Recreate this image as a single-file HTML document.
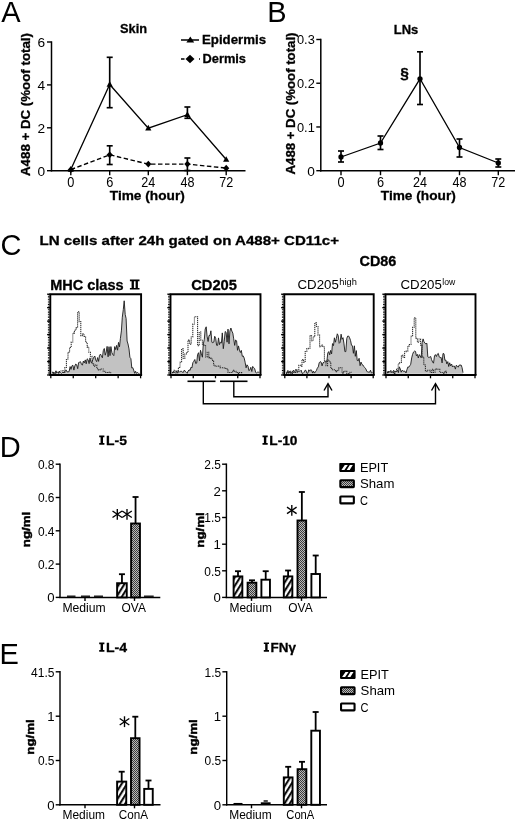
<!DOCTYPE html>
<html><head><meta charset="utf-8"><title>Figure</title>
<style>
html,body{margin:0;padding:0;background:#fff;}
body{width:520px;height:821px;overflow:hidden;font-family:"Liberation Sans",sans-serif;}
svg{display:block;will-change:transform;}
svg text{font-family:"Liberation Sans",sans-serif;fill:#000;}
</style></head><body>
<svg width="520" height="821" viewBox="0 0 520 821">
<rect width="520" height="821" fill="#fff"/>
<defs>
<pattern id="hatch" width="4.5" height="4.5" patternUnits="userSpaceOnUse" patternTransform="rotate(-58)"><rect width="4.5" height="4.5" fill="#fff"/><line x1="0" y1="1.1" x2="4.5" y2="1.1" stroke="#000" stroke-width="2"/></pattern>
<pattern id="dots" width="2" height="2" patternUnits="userSpaceOnUse"><rect width="2" height="2" fill="#b9b9b9"/><rect width="1" height="1" fill="#3c3c3c"/><rect x="1" y="1" width="1" height="1" fill="#3c3c3c"/></pattern>
</defs>
<text x="1.2" y="22.3" font-size="29" text-anchor="start" >A</text>
<line x1="51.5" y1="41.3" x2="51.5" y2="171.39999999999998" stroke="#000" stroke-width="1.5" />
<line x1="50.8" y1="170.7" x2="245.5" y2="170.7" stroke="#000" stroke-width="1.5" />
<line x1="47.0" y1="170.7" x2="51.5" y2="170.7" stroke="#000" stroke-width="1.4" />
<text x="45.2" y="175.6" font-size="13.7" text-anchor="end" >0</text>
<line x1="47.0" y1="127.79999999999998" x2="51.5" y2="127.79999999999998" stroke="#000" stroke-width="1.4" />
<text x="45.2" y="132.7" font-size="13.7" text-anchor="end" >2</text>
<line x1="47.0" y1="84.89999999999999" x2="51.5" y2="84.89999999999999" stroke="#000" stroke-width="1.4" />
<text x="45.2" y="89.8" font-size="13.7" text-anchor="end" >4</text>
<line x1="47.0" y1="42.0" x2="51.5" y2="42.0" stroke="#000" stroke-width="1.4" />
<text x="45.2" y="46.9" font-size="13.7" text-anchor="end" >6</text>
<line x1="70.8" y1="170.7" x2="70.8" y2="175.2" stroke="#000" stroke-width="1.4" />
<text x="70.8" y="186.7" font-size="14.1" text-anchor="middle" textLength="7.1" lengthAdjust="spacingAndGlyphs" >0</text>
<line x1="109.7" y1="170.7" x2="109.7" y2="175.2" stroke="#000" stroke-width="1.4" />
<text x="109.7" y="186.7" font-size="14.1" text-anchor="middle" textLength="7.1" lengthAdjust="spacingAndGlyphs" >6</text>
<line x1="148.3" y1="170.7" x2="148.3" y2="175.2" stroke="#000" stroke-width="1.4" />
<text x="148.3" y="186.7" font-size="14.1" text-anchor="middle" textLength="14" lengthAdjust="spacingAndGlyphs" >24</text>
<line x1="187.4" y1="170.7" x2="187.4" y2="175.2" stroke="#000" stroke-width="1.4" />
<text x="187.4" y="186.7" font-size="14.1" text-anchor="middle" textLength="14" lengthAdjust="spacingAndGlyphs" >48</text>
<line x1="226.2" y1="170.7" x2="226.2" y2="175.2" stroke="#000" stroke-width="1.4" />
<text x="226.2" y="186.7" font-size="14.1" text-anchor="middle" textLength="14" lengthAdjust="spacingAndGlyphs" >72</text>
<text x="147.3" y="199.7" font-size="13.6" font-weight="bold" stroke="#000" stroke-width="0.3" text-anchor="middle" textLength="75" lengthAdjust="spacingAndGlyphs" >Time (hour)</text>
<text x="133.5" y="33" font-size="13" font-weight="bold" stroke="#000" stroke-width="0.3" text-anchor="middle" textLength="27" lengthAdjust="spacingAndGlyphs" >Skin</text>
<text transform="translate(29.8,104.5) rotate(-90)" font-size="12.6" font-weight="bold" stroke="#000" stroke-width="0.3" text-anchor="middle" textLength="143" lengthAdjust="spacingAndGlyphs">A488 + DC (%oof total)</text>
<line x1="109.7" y1="57.3" x2="109.7" y2="107.7" stroke="#000" stroke-width="1.65" />
<line x1="106.7" y1="57.3" x2="112.7" y2="57.3" stroke="#000" stroke-width="1.65" />
<line x1="106.7" y1="107.7" x2="112.7" y2="107.7" stroke="#000" stroke-width="1.65" />
<line x1="187.4" y1="107" x2="187.4" y2="118.3" stroke="#000" stroke-width="1.65" />
<line x1="184.4" y1="107" x2="190.4" y2="107" stroke="#000" stroke-width="1.65" />
<line x1="184.4" y1="118.3" x2="190.4" y2="118.3" stroke="#000" stroke-width="1.65" />
<line x1="109.7" y1="145.8" x2="109.7" y2="164.5" stroke="#000" stroke-width="1.65" />
<line x1="106.7" y1="145.8" x2="112.7" y2="145.8" stroke="#000" stroke-width="1.65" />
<line x1="106.7" y1="164.5" x2="112.7" y2="164.5" stroke="#000" stroke-width="1.65" />
<line x1="187.4" y1="158" x2="187.4" y2="170.5" stroke="#000" stroke-width="1.65" />
<line x1="184.4" y1="158" x2="190.4" y2="158" stroke="#000" stroke-width="1.65" />
<line x1="184.4" y1="170.5" x2="190.4" y2="170.5" stroke="#000" stroke-width="1.65" />
<polyline points="70.8,169.6 109.7,84.5 148.3,128.2 187.4,114.7 226.2,159.5" fill="none" stroke="#000" stroke-width="1.3"/>
<polyline points="70.8,169.6 109.7,154.8 148.3,164.1 187.4,164.1 226.2,168.1" fill="none" stroke="#000" stroke-width="1.4" stroke-dasharray="4.5 2.5"/>
<polygon points="70.8,166.2275 73.89999999999999,171.8275 67.7,171.8275" fill="#000"/>
<polygon points="109.7,81.071 112.8,86.671 106.60000000000001,86.671" fill="#000"/>
<polygon points="148.3,124.82899999999998 151.4,130.42899999999997 145.20000000000002,130.42899999999997" fill="#000"/>
<polygon points="187.4,111.31549999999999 190.5,116.9155 184.3,116.9155" fill="#000"/>
<polygon points="226.2,156.146 229.29999999999998,161.74599999999998 223.1,161.74599999999998" fill="#000"/>
<polygon points="70.8,166.2275 73.89999999999999,169.6275 70.8,173.0275 67.7,169.6275" fill="#000"/>
<polygon points="109.7,151.427 112.8,154.827 109.7,158.227 106.60000000000001,154.827" fill="#000"/>
<polygon points="148.3,160.6505 151.4,164.0505 148.3,167.4505 145.20000000000002,164.0505" fill="#000"/>
<polygon points="187.4,160.6505 190.5,164.0505 187.4,167.4505 184.3,164.0505" fill="#000"/>
<polygon points="226.2,164.72599999999997 229.29999999999998,168.12599999999998 226.2,171.52599999999998 223.1,168.12599999999998" fill="#000"/>
<line x1="181" y1="40" x2="199" y2="40" stroke="#000" stroke-width="1.5" />
<polygon points="190.3,36.6 194.2,42.6 186.4,42.6" fill="#000"/>
<text x="202" y="44" font-size="13" font-weight="bold" stroke="#000" stroke-width="0.3" text-anchor="start" textLength="64" lengthAdjust="spacingAndGlyphs" >Epidermis</text>
<line x1="181" y1="59" x2="184.5" y2="59" stroke="#000" stroke-width="1.5" />
<line x1="199" y1="59" x2="200" y2="59" stroke="#000" stroke-width="1.3" />
<polygon points="190,54.8 194.5,59 190,63.2 185.5,59" fill="#000"/>
<text x="202.5" y="62.7" font-size="13" font-weight="bold" stroke="#000" stroke-width="0.3" text-anchor="start" textLength="43.5" lengthAdjust="spacingAndGlyphs" >Dermis</text>
<text x="267.3" y="22.2" font-size="29" text-anchor="start" >B</text>
<line x1="320.8" y1="38.8" x2="320.8" y2="171.39999999999998" stroke="#000" stroke-width="1.5" />
<line x1="320.1" y1="170.7" x2="515" y2="170.7" stroke="#000" stroke-width="1.5" />
<line x1="316.3" y1="170.7" x2="320.8" y2="170.7" stroke="#000" stroke-width="1.4" />
<text x="314.8" y="175.6" font-size="13.7" text-anchor="end" >0</text>
<line x1="316.3" y1="126.96666666666665" x2="320.8" y2="126.96666666666665" stroke="#000" stroke-width="1.4" />
<text x="314.8" y="131.86666666666665" font-size="13.7" text-anchor="end" textLength="17.8" lengthAdjust="spacingAndGlyphs" >0.1</text>
<line x1="316.3" y1="83.23333333333332" x2="320.8" y2="83.23333333333332" stroke="#000" stroke-width="1.4" />
<text x="314.8" y="88.13333333333333" font-size="13.7" text-anchor="end" textLength="17.8" lengthAdjust="spacingAndGlyphs" >0.2</text>
<line x1="316.3" y1="39.5" x2="320.8" y2="39.5" stroke="#000" stroke-width="1.4" />
<text x="314.8" y="44.4" font-size="13.7" text-anchor="end" textLength="17.8" lengthAdjust="spacingAndGlyphs" >0.3</text>
<line x1="341" y1="170.7" x2="341" y2="175.2" stroke="#000" stroke-width="1.4" />
<text x="341" y="186.7" font-size="14.1" text-anchor="middle" textLength="7.1" lengthAdjust="spacingAndGlyphs" >0</text>
<line x1="380.5" y1="170.7" x2="380.5" y2="175.2" stroke="#000" stroke-width="1.4" />
<text x="380.5" y="186.7" font-size="14.1" text-anchor="middle" textLength="7.1" lengthAdjust="spacingAndGlyphs" >6</text>
<line x1="420" y1="170.7" x2="420" y2="175.2" stroke="#000" stroke-width="1.4" />
<text x="420" y="186.7" font-size="14.1" text-anchor="middle" textLength="14" lengthAdjust="spacingAndGlyphs" >24</text>
<line x1="459.5" y1="170.7" x2="459.5" y2="175.2" stroke="#000" stroke-width="1.4" />
<text x="459.5" y="186.7" font-size="14.1" text-anchor="middle" textLength="14" lengthAdjust="spacingAndGlyphs" >48</text>
<line x1="498.3" y1="170.7" x2="498.3" y2="175.2" stroke="#000" stroke-width="1.4" />
<text x="498.3" y="186.7" font-size="14.1" text-anchor="middle" textLength="14" lengthAdjust="spacingAndGlyphs" >72</text>
<text x="418.3" y="199.7" font-size="13.6" font-weight="bold" stroke="#000" stroke-width="0.3" text-anchor="middle" textLength="75" lengthAdjust="spacingAndGlyphs" >Time (hour)</text>
<text x="406" y="33.7" font-size="13" font-weight="bold" stroke="#000" stroke-width="0.3" text-anchor="middle" textLength="24.5" lengthAdjust="spacingAndGlyphs" >LNs</text>
<text transform="translate(294.6,103.5) rotate(-90)" font-size="12.6" font-weight="bold" stroke="#000" stroke-width="0.3" text-anchor="middle" textLength="142" lengthAdjust="spacingAndGlyphs">A488 + DC (%oof total)</text>
<line x1="341" y1="151" x2="341" y2="162" stroke="#000" stroke-width="1.65" />
<line x1="338.0" y1="151" x2="344.0" y2="151" stroke="#000" stroke-width="1.65" />
<line x1="338.0" y1="162" x2="344.0" y2="162" stroke="#000" stroke-width="1.65" />
<line x1="380.5" y1="136" x2="380.5" y2="149.5" stroke="#000" stroke-width="1.65" />
<line x1="377.5" y1="136" x2="383.5" y2="136" stroke="#000" stroke-width="1.65" />
<line x1="377.5" y1="149.5" x2="383.5" y2="149.5" stroke="#000" stroke-width="1.65" />
<line x1="420" y1="51.8" x2="420" y2="104.5" stroke="#000" stroke-width="1.65" />
<line x1="417.0" y1="51.8" x2="423.0" y2="51.8" stroke="#000" stroke-width="1.65" />
<line x1="417.0" y1="104.5" x2="423.0" y2="104.5" stroke="#000" stroke-width="1.65" />
<line x1="459.5" y1="139" x2="459.5" y2="157" stroke="#000" stroke-width="1.65" />
<line x1="456.5" y1="139" x2="462.5" y2="139" stroke="#000" stroke-width="1.65" />
<line x1="456.5" y1="157" x2="462.5" y2="157" stroke="#000" stroke-width="1.65" />
<line x1="498.3" y1="159" x2="498.3" y2="167" stroke="#000" stroke-width="1.65" />
<line x1="495.3" y1="159" x2="501.3" y2="159" stroke="#000" stroke-width="1.65" />
<line x1="495.3" y1="167" x2="501.3" y2="167" stroke="#000" stroke-width="1.65" />
<polyline points="341,157 380.5,143 420,78.8 459.5,147.5 498.3,163" fill="none" stroke="#000" stroke-width="1.3"/>
<circle cx="341" cy="157" r="2.65" fill="#000"/>
<circle cx="380.5" cy="143" r="2.65" fill="#000"/>
<circle cx="420" cy="78.8" r="2.65" fill="#000"/>
<circle cx="459.5" cy="147.5" r="2.65" fill="#000"/>
<circle cx="498.3" cy="163" r="2.65" fill="#000"/>
<text x="404.5" y="78.3" font-size="15.5" font-weight="bold" stroke="#000" stroke-width="0.3" text-anchor="middle" stroke="#000" stroke-width="0.75">§</text>
<text x="0.6" y="255.3" font-size="29" text-anchor="start" >C</text>
<text x="39.5" y="245.2" font-size="13.5" font-weight="bold" stroke="#000" stroke-width="0.3" text-anchor="start" textLength="299.5" lengthAdjust="spacingAndGlyphs" >LN cells after 24h gated on A488+ CD11c+</text>
<text x="50.2" y="289.6" font-size="14" font-weight="bold" stroke="#000" stroke-width="0.3" text-anchor="start" textLength="73.4" lengthAdjust="spacingAndGlyphs" >MHC class</text>
<path d="M129.9,279.6 h9.6 v1.7 h-9.6 z M129.9,287.9 h9.6 v1.7 h-9.6 z M131.6,280 h2.3 v9 h-2.3 z M135.6,280 h2.3 v9 h-2.3 z" fill="#000"/>
<text x="191.2" y="289.6" font-size="14" font-weight="bold" stroke="#000" stroke-width="0.3" text-anchor="start" textLength="45.8" lengthAdjust="spacingAndGlyphs" >CD205</text>
<text x="359.5" y="266.4" font-size="14" font-weight="bold" stroke="#000" stroke-width="0.3" text-anchor="start" textLength="36.8" lengthAdjust="spacingAndGlyphs" >CD86</text>
<text x="297.5" y="288.9" font-size="13.5" text-anchor="start" textLength="41.3" lengthAdjust="spacingAndGlyphs" >CD205</text>
<text x="339.3" y="285" font-size="9.5" text-anchor="start" textLength="17.5" lengthAdjust="spacingAndGlyphs" >high</text>
<text x="400.5" y="288.9" font-size="13.5" text-anchor="start" textLength="41.3" lengthAdjust="spacingAndGlyphs" >CD205</text>
<text x="442.3" y="285" font-size="9.5" text-anchor="start" textLength="13" lengthAdjust="spacingAndGlyphs" >low</text>
<path d="M52.0,373.8 L52.0,373.4 L53.0,372.5 L53.9,372.5 L54.9,373.4 L55.8,370.9 L56.8,371.5 L57.7,372.4 L58.7,373.4 L59.6,372.2 L60.6,372.5 L61.5,373.4 L62.5,372.2 L63.4,372.5 L64.4,372.5 L65.3,370.3 L66.3,370.1 L67.2,372.0 L68.2,371.8 L69.1,371.6 L70.1,366.6 L71.0,369.4 L72.0,365.7 L72.9,365.3 L73.9,370.1 L74.8,366.0 L75.8,364.0 L76.7,364.8 L77.7,368.7 L78.6,362.6 L79.6,362.2 L80.5,361.7 L81.5,364.3 L82.4,365.2 L83.4,361.0 L84.3,362.9 L85.3,359.9 L86.2,363.8 L87.2,358.8 L88.1,359.7 L89.1,363.6 L90.0,357.9 L91.0,362.4 L91.9,362.4 L92.9,359.3 L93.8,357.2 L94.8,356.0 L95.7,359.9 L96.7,361.7 L97.6,357.6 L98.6,361.4 L99.5,355.3 L100.5,354.1 L101.4,356.0 L102.4,357.8 L103.3,350.6 L104.3,348.5 L105.2,355.2 L106.2,352.0 L107.1,346.4 L108.1,356.8 L109.0,346.7 L110.0,355.6 L110.9,346.6 L111.9,352.6 L112.8,354.6 L113.8,355.6 L114.7,346.6 L115.7,349.6 L116.6,345.4 L117.6,350.2 L118.5,342.4 L119.5,346.8 L120.4,338.4 L121.4,330.9 L122.3,317.2 L123.3,309.5 L124.2,300.8 L125.2,314.5 L126.1,318.5 L127.1,341.0 L128.0,344.0 L129.0,348.9 L129.9,357.3 L130.9,358.7 L131.8,368.0 L132.8,367.7 L133.7,370.2 L134.7,373.3 L135.6,371.3 L136.6,373.4 L137.5,372.4 L138.5,373.4 L139.4,373.4 L139.4,373.8 Z" fill="#c2c2c2" stroke="none"/>
<path d="M52.0,372.2 H53.6 V373.4 H55.2 V372.6 H56.8 V372.6 H58.4 V371.4 H60.0 V371.0 H61.6 V370.8 H63.2 V372.4 H64.8 V367.5 H66.4 V359.0 H68.0 V352.2 H69.6 V347.5 H71.2 V342.0 H72.8 V333.1 H74.4 V330.3 H76.0 V327.7 H77.6 V311.8 H79.2 V321.6 H80.8 V335.6 H82.4 V333.8 H84.0 V336.5 H85.6 V342.3 H87.2 V347.1 H88.8 V352.3 H90.4 V356.2 H92.0 V363.7 H93.6 V366.2 H95.2 V364.9 H96.8 V368.7 H98.4 V369.9 H100.0 V368.9 H101.6 V368.9 H103.2 V371.2 H104.8 V372.4 H106.4 V372.5 H108.0 V372.2 H109.6 V372.6 H111.2" fill="none" stroke="#2a2a2a" stroke-width="1.05" stroke-dasharray="1.2 0.8"/>
<path d="M52.0,373.4 L53.0,372.5 L53.9,372.5 L54.9,373.4 L55.8,370.9 L56.8,371.5 L57.7,372.4 L58.7,373.4 L59.6,372.2 L60.6,372.5 L61.5,373.4 L62.5,372.2 L63.4,372.5 L64.4,372.5 L65.3,370.3 L66.3,370.1 L67.2,372.0 L68.2,371.8 L69.1,371.6 L70.1,366.6 L71.0,369.4 L72.0,365.7 L72.9,365.3 L73.9,370.1 L74.8,366.0 L75.8,364.0 L76.7,364.8 L77.7,368.7 L78.6,362.6 L79.6,362.2 L80.5,361.7 L81.5,364.3 L82.4,365.2 L83.4,361.0 L84.3,362.9 L85.3,359.9 L86.2,363.8 L87.2,358.8 L88.1,359.7 L89.1,363.6 L90.0,357.9 L91.0,362.4 L91.9,362.4 L92.9,359.3 L93.8,357.2 L94.8,356.0 L95.7,359.9 L96.7,361.7 L97.6,357.6 L98.6,361.4 L99.5,355.3 L100.5,354.1 L101.4,356.0 L102.4,357.8 L103.3,350.6 L104.3,348.5 L105.2,355.2 L106.2,352.0 L107.1,346.4 L108.1,356.8 L109.0,346.7 L110.0,355.6 L110.9,346.6 L111.9,352.6 L112.8,354.6 L113.8,355.6 L114.7,346.6 L115.7,349.6 L116.6,345.4 L117.6,350.2 L118.5,342.4 L119.5,346.8 L120.4,338.4 L121.4,330.9 L122.3,317.2 L123.3,309.5 L124.2,300.8 L125.2,314.5 L126.1,318.5 L127.1,341.0 L128.0,344.0 L129.0,348.9 L129.9,357.3 L130.9,358.7 L131.8,368.0 L132.8,367.7 L133.7,370.2 L134.7,373.3 L135.6,371.3 L136.6,373.4 L137.5,372.4 L138.5,373.4 L139.4,373.4" fill="none" stroke="#1a1a1a" stroke-width="0.9" stroke-linejoin="miter"/>
<path d="M50.3,375 V294.2 H141.1 V375" fill="none" stroke="#000" stroke-width="1.9"/>
<line x1="49.3" y1="375" x2="142.1" y2="375" stroke="#000" stroke-width="2.2" />
<line x1="50.8" y1="375" x2="50.8" y2="378.3" stroke="#000" stroke-width="1.3" />
<line x1="73.25" y1="375" x2="73.25" y2="378.3" stroke="#000" stroke-width="1.3" />
<line x1="95.69999999999999" y1="375" x2="95.69999999999999" y2="378.3" stroke="#000" stroke-width="1.3" />
<line x1="118.14999999999999" y1="375" x2="118.14999999999999" y2="378.3" stroke="#000" stroke-width="1.3" />
<line x1="140.6" y1="375" x2="140.6" y2="378.3" stroke="#000" stroke-width="1.3" />
<line x1="47.099999999999994" y1="294.2" x2="50.3" y2="294.2" stroke="#000" stroke-width="1.3" />
<line x1="47.099999999999994" y1="307.66666666666663" x2="50.3" y2="307.66666666666663" stroke="#000" stroke-width="1.3" />
<line x1="47.099999999999994" y1="321.1333333333333" x2="50.3" y2="321.1333333333333" stroke="#000" stroke-width="1.3" />
<line x1="47.099999999999994" y1="334.6" x2="50.3" y2="334.6" stroke="#000" stroke-width="1.3" />
<line x1="47.099999999999994" y1="348.06666666666666" x2="50.3" y2="348.06666666666666" stroke="#000" stroke-width="1.3" />
<line x1="47.099999999999994" y1="361.5333333333333" x2="50.3" y2="361.5333333333333" stroke="#000" stroke-width="1.3" />
<line x1="47.099999999999994" y1="375.0" x2="50.3" y2="375.0" stroke="#000" stroke-width="1.3" />
<line x1="48.699999999999996" y1="294.2" x2="48.699999999999996" y2="375" stroke="#000" stroke-width="1.6" stroke-dasharray="0.8 0.85"/>
<path d="M172.0,373.8 L172.0,372.2 L172.9,372.4 L173.9,372.3 L174.8,372.3 L175.8,373.3 L176.7,371.2 L177.7,373.2 L178.6,371.2 L179.6,372.2 L180.5,371.2 L181.5,371.2 L182.4,372.3 L183.4,372.3 L184.3,370.1 L185.3,371.3 L186.2,372.3 L187.2,373.3 L188.1,371.0 L189.1,369.8 L190.0,370.5 L191.0,367.2 L191.9,367.9 L192.9,362.6 L193.8,361.3 L194.8,359.5 L195.7,363.5 L196.7,363.1 L197.6,354.4 L198.6,352.7 L199.5,360.8 L200.5,350.3 L201.4,353.8 L202.4,357.2 L203.3,344.0 L204.3,339.5 L205.2,329.0 L206.2,326.8 L207.1,336.3 L208.1,341.5 L209.0,335.5 L210.0,335.4 L210.9,330.8 L211.9,342.3 L212.8,342.7 L213.8,342.1 L214.7,336.3 L215.7,338.3 L216.6,345.3 L217.6,345.4 L218.5,337.9 L219.5,344.6 L220.4,342.2 L221.4,343.0 L222.3,332.9 L223.3,348.7 L224.2,341.6 L225.2,331.5 L226.1,332.3 L227.1,342.2 L228.0,329.1 L229.0,343.8 L229.9,331.2 L230.9,328.0 L231.8,331.0 L232.8,333.1 L233.7,338.8 L234.7,345.4 L235.6,340.0 L236.6,340.8 L237.5,350.3 L238.5,345.9 L239.4,350.1 L240.4,352.5 L241.3,350.4 L242.3,356.3 L243.2,355.9 L244.2,358.1 L245.1,362.2 L246.1,367.8 L247.0,364.8 L248.0,366.1 L248.9,370.7 L249.9,369.9 L250.8,367.3 L251.8,371.5 L252.7,366.4 L253.7,367.7 L254.6,368.5 L255.6,372.1 L256.5,373.1 L257.5,372.2 L258.4,372.2 L259.4,372.3 L259.4,373.8 Z" fill="#c2c2c2" stroke="none"/>
<path d="M172.0,372.6 H173.6 V370.2 H175.2 V371.2 H176.8 V371.1 H178.4 V367.5 H180.0 V362.3 H181.6 V348.8 H183.2 V358.5 H184.8 V353.9 H186.4 V352.4 H188.0 V340.1 H189.6 V344.2 H191.2 V336.9 H192.8 V324.0 H194.4 V316.8 H196.0 V316.8 H197.6 V345.7 H199.2 V332.0 H200.8 V340.2 H202.4 V345.0 H204.0 V345.4 H205.6 V357.0 H207.2 V352.2 H208.8 V357.6 H210.4 V358.1 H212.0 V360.4 H213.6 V365.0 H215.2 V366.2 H216.8 V366.3 H218.4 V365.9 H220.0 V367.7 H221.6 V367.7 H223.2 V367.9 H224.8 V368.4 H226.4 V369.0 H228.0 V372.4 H229.6 V372.4 H231.2 V372.4 H232.8 V370.2 H234.4 V371.3 H236.0 V372.5 H237.6 V373.4 H239.2 V372.6 H240.8 V372.6 H242.4" fill="none" stroke="#2a2a2a" stroke-width="1.05" stroke-dasharray="1.2 0.8"/>
<path d="M172.0,372.2 L172.9,372.4 L173.9,372.3 L174.8,372.3 L175.8,373.3 L176.7,371.2 L177.7,373.2 L178.6,371.2 L179.6,372.2 L180.5,371.2 L181.5,371.2 L182.4,372.3 L183.4,372.3 L184.3,370.1 L185.3,371.3 L186.2,372.3 L187.2,373.3 L188.1,371.0 L189.1,369.8 L190.0,370.5 L191.0,367.2 L191.9,367.9 L192.9,362.6 L193.8,361.3 L194.8,359.5 L195.7,363.5 L196.7,363.1 L197.6,354.4 L198.6,352.7 L199.5,360.8 L200.5,350.3 L201.4,353.8 L202.4,357.2 L203.3,344.0 L204.3,339.5 L205.2,329.0 L206.2,326.8 L207.1,336.3 L208.1,341.5 L209.0,335.5 L210.0,335.4 L210.9,330.8 L211.9,342.3 L212.8,342.7 L213.8,342.1 L214.7,336.3 L215.7,338.3 L216.6,345.3 L217.6,345.4 L218.5,337.9 L219.5,344.6 L220.4,342.2 L221.4,343.0 L222.3,332.9 L223.3,348.7 L224.2,341.6 L225.2,331.5 L226.1,332.3 L227.1,342.2 L228.0,329.1 L229.0,343.8 L229.9,331.2 L230.9,328.0 L231.8,331.0 L232.8,333.1 L233.7,338.8 L234.7,345.4 L235.6,340.0 L236.6,340.8 L237.5,350.3 L238.5,345.9 L239.4,350.1 L240.4,352.5 L241.3,350.4 L242.3,356.3 L243.2,355.9 L244.2,358.1 L245.1,362.2 L246.1,367.8 L247.0,364.8 L248.0,366.1 L248.9,370.7 L249.9,369.9 L250.8,367.3 L251.8,371.5 L252.7,366.4 L253.7,367.7 L254.6,368.5 L255.6,372.1 L256.5,373.1 L257.5,372.2 L258.4,372.2 L259.4,372.3" fill="none" stroke="#1a1a1a" stroke-width="0.9" stroke-linejoin="miter"/>
<path d="M170.5,375 V294.2 H260.5 V375" fill="none" stroke="#000" stroke-width="1.9"/>
<line x1="169.5" y1="375" x2="261.5" y2="375" stroke="#000" stroke-width="2.2" />
<line x1="171.0" y1="375" x2="171.0" y2="378.3" stroke="#000" stroke-width="1.3" />
<line x1="193.25" y1="375" x2="193.25" y2="378.3" stroke="#000" stroke-width="1.3" />
<line x1="215.5" y1="375" x2="215.5" y2="378.3" stroke="#000" stroke-width="1.3" />
<line x1="237.75" y1="375" x2="237.75" y2="378.3" stroke="#000" stroke-width="1.3" />
<line x1="260.0" y1="375" x2="260.0" y2="378.3" stroke="#000" stroke-width="1.3" />
<line x1="167.3" y1="294.2" x2="170.5" y2="294.2" stroke="#000" stroke-width="1.3" />
<line x1="167.3" y1="307.66666666666663" x2="170.5" y2="307.66666666666663" stroke="#000" stroke-width="1.3" />
<line x1="167.3" y1="321.1333333333333" x2="170.5" y2="321.1333333333333" stroke="#000" stroke-width="1.3" />
<line x1="167.3" y1="334.6" x2="170.5" y2="334.6" stroke="#000" stroke-width="1.3" />
<line x1="167.3" y1="348.06666666666666" x2="170.5" y2="348.06666666666666" stroke="#000" stroke-width="1.3" />
<line x1="167.3" y1="361.5333333333333" x2="170.5" y2="361.5333333333333" stroke="#000" stroke-width="1.3" />
<line x1="167.3" y1="375.0" x2="170.5" y2="375.0" stroke="#000" stroke-width="1.3" />
<line x1="168.9" y1="294.2" x2="168.9" y2="375" stroke="#000" stroke-width="1.6" stroke-dasharray="0.8 0.85"/>
<path d="M286.0,373.8 L286.0,372.4 L286.9,372.4 L287.9,370.4 L288.8,373.4 L289.8,371.3 L290.7,373.3 L291.7,372.3 L292.6,372.3 L293.6,372.2 L294.5,372.2 L295.5,369.6 L296.4,369.6 L297.4,372.2 L298.3,371.2 L299.3,371.2 L300.2,371.2 L301.2,370.2 L302.1,373.3 L303.1,373.3 L304.0,372.3 L305.0,370.3 L305.9,370.3 L306.9,373.3 L307.8,373.3 L308.8,369.8 L309.7,371.2 L310.7,369.7 L311.6,370.2 L312.6,373.1 L313.5,371.1 L314.5,373.1 L315.4,371.8 L316.4,370.5 L317.3,368.2 L318.3,366.9 L319.2,362.8 L320.2,361.6 L321.1,362.1 L322.1,365.9 L323.0,362.7 L324.0,362.5 L324.9,361.3 L325.9,362.1 L326.8,361.8 L327.8,353.0 L328.7,351.6 L329.7,354.8 L330.6,350.4 L331.6,353.9 L332.5,343.6 L333.5,345.6 L334.4,337.8 L335.4,342.2 L336.3,338.5 L337.3,333.8 L338.2,335.6 L339.2,343.3 L340.1,342.4 L341.1,334.2 L342.0,339.3 L343.0,337.7 L343.9,343.1 L344.9,351.6 L345.8,351.6 L346.8,338.3 L347.7,336.1 L348.7,336.1 L349.6,337.8 L350.6,340.7 L351.5,345.3 L352.5,345.8 L353.4,353.3 L354.4,345.8 L355.3,356.3 L356.3,350.6 L357.2,360.4 L358.2,360.9 L359.1,358.3 L360.1,365.7 L361.0,362.1 L362.0,364.5 L362.9,365.0 L363.9,366.6 L364.8,367.7 L365.8,368.8 L366.7,371.0 L367.7,372.1 L368.6,372.1 L369.6,372.2 L370.5,370.2 L371.5,373.2 L372.4,372.3 L372.4,373.8 Z" fill="#c2c2c2" stroke="none"/>
<path d="M286.0,373.4 H287.6 V372.6 H289.2 V371.2 H290.8 V373.4 H292.4 V370.6 H294.0 V372.4 H295.6 V372.3 H297.2 V369.9 H298.8 V365.2 H300.4 V366.1 H302.0 V359.4 H303.6 V362.2 H305.2 V351.4 H306.8 V348.6 H308.4 V348.2 H310.0 V335.4 H311.6 V340.7 H313.2 V336.8 H314.8 V322.8 H316.4 V326.5 H318.0 V335.1 H319.6 V346.8 H321.2 V345.0 H322.8 V347.0 H324.4 V360.7 H326.0 V365.6 H327.6 V360.1 H329.2 V362.0 H330.8 V368.5 H332.4 V369.7 H334.0 V369.8 H335.6 V371.8 H337.2 V369.9 H338.8 V367.7 H340.4 V367.8 H342.0 V373.1 H343.6 V371.2 H345.2 V371.3 H346.8 V373.4 H348.4 V373.4 H350.0 V372.2 H351.6" fill="none" stroke="#2a2a2a" stroke-width="1.05" stroke-dasharray="1.2 0.8"/>
<path d="M286.0,372.4 L286.9,372.4 L287.9,370.4 L288.8,373.4 L289.8,371.3 L290.7,373.3 L291.7,372.3 L292.6,372.3 L293.6,372.2 L294.5,372.2 L295.5,369.6 L296.4,369.6 L297.4,372.2 L298.3,371.2 L299.3,371.2 L300.2,371.2 L301.2,370.2 L302.1,373.3 L303.1,373.3 L304.0,372.3 L305.0,370.3 L305.9,370.3 L306.9,373.3 L307.8,373.3 L308.8,369.8 L309.7,371.2 L310.7,369.7 L311.6,370.2 L312.6,373.1 L313.5,371.1 L314.5,373.1 L315.4,371.8 L316.4,370.5 L317.3,368.2 L318.3,366.9 L319.2,362.8 L320.2,361.6 L321.1,362.1 L322.1,365.9 L323.0,362.7 L324.0,362.5 L324.9,361.3 L325.9,362.1 L326.8,361.8 L327.8,353.0 L328.7,351.6 L329.7,354.8 L330.6,350.4 L331.6,353.9 L332.5,343.6 L333.5,345.6 L334.4,337.8 L335.4,342.2 L336.3,338.5 L337.3,333.8 L338.2,335.6 L339.2,343.3 L340.1,342.4 L341.1,334.2 L342.0,339.3 L343.0,337.7 L343.9,343.1 L344.9,351.6 L345.8,351.6 L346.8,338.3 L347.7,336.1 L348.7,336.1 L349.6,337.8 L350.6,340.7 L351.5,345.3 L352.5,345.8 L353.4,353.3 L354.4,345.8 L355.3,356.3 L356.3,350.6 L357.2,360.4 L358.2,360.9 L359.1,358.3 L360.1,365.7 L361.0,362.1 L362.0,364.5 L362.9,365.0 L363.9,366.6 L364.8,367.7 L365.8,368.8 L366.7,371.0 L367.7,372.1 L368.6,372.1 L369.6,372.2 L370.5,370.2 L371.5,373.2 L372.4,372.3" fill="none" stroke="#1a1a1a" stroke-width="0.9" stroke-linejoin="miter"/>
<path d="M284.3,375 V294.2 H373.7 V375" fill="none" stroke="#000" stroke-width="1.9"/>
<line x1="283.3" y1="375" x2="374.7" y2="375" stroke="#000" stroke-width="2.2" />
<line x1="284.8" y1="375" x2="284.8" y2="378.3" stroke="#000" stroke-width="1.3" />
<line x1="306.9" y1="375" x2="306.9" y2="378.3" stroke="#000" stroke-width="1.3" />
<line x1="329.0" y1="375" x2="329.0" y2="378.3" stroke="#000" stroke-width="1.3" />
<line x1="351.1" y1="375" x2="351.1" y2="378.3" stroke="#000" stroke-width="1.3" />
<line x1="373.2" y1="375" x2="373.2" y2="378.3" stroke="#000" stroke-width="1.3" />
<line x1="281.1" y1="294.2" x2="284.3" y2="294.2" stroke="#000" stroke-width="1.3" />
<line x1="281.1" y1="307.66666666666663" x2="284.3" y2="307.66666666666663" stroke="#000" stroke-width="1.3" />
<line x1="281.1" y1="321.1333333333333" x2="284.3" y2="321.1333333333333" stroke="#000" stroke-width="1.3" />
<line x1="281.1" y1="334.6" x2="284.3" y2="334.6" stroke="#000" stroke-width="1.3" />
<line x1="281.1" y1="348.06666666666666" x2="284.3" y2="348.06666666666666" stroke="#000" stroke-width="1.3" />
<line x1="281.1" y1="361.5333333333333" x2="284.3" y2="361.5333333333333" stroke="#000" stroke-width="1.3" />
<line x1="281.1" y1="375.0" x2="284.3" y2="375.0" stroke="#000" stroke-width="1.3" />
<line x1="282.7" y1="294.2" x2="282.7" y2="375" stroke="#000" stroke-width="1.6" stroke-dasharray="0.8 0.85"/>
<path d="M387.0,373.8 L387.0,371.4 L387.9,372.2 L388.9,372.4 L389.8,371.4 L390.8,370.4 L391.7,371.3 L392.7,372.3 L393.6,370.3 L394.6,372.3 L395.5,371.3 L396.5,371.2 L397.4,370.2 L398.4,372.6 L399.3,366.8 L400.3,369.0 L401.2,372.2 L402.2,370.2 L403.1,371.2 L404.1,371.2 L405.0,371.2 L406.0,373.0 L406.9,369.8 L407.9,366.9 L408.8,367.2 L409.8,365.7 L410.7,364.3 L411.7,357.9 L412.6,354.3 L413.6,351.9 L414.5,351.1 L415.5,351.4 L416.4,355.8 L417.4,354.4 L418.3,358.0 L419.3,354.6 L420.2,356.0 L421.2,357.8 L422.1,342.8 L423.1,338.9 L424.0,341.8 L425.0,343.3 L425.9,343.8 L426.9,343.3 L427.8,356.8 L428.8,357.5 L429.7,357.1 L430.7,356.5 L431.6,359.7 L432.6,362.0 L433.5,363.2 L434.5,355.9 L435.4,354.6 L436.4,356.5 L437.3,354.2 L438.3,353.4 L439.2,356.9 L440.2,357.6 L441.1,357.4 L442.1,362.9 L443.0,353.5 L444.0,353.8 L444.9,360.3 L445.9,360.1 L446.8,363.9 L447.8,361.6 L448.7,366.5 L449.7,362.8 L450.6,365.8 L451.6,364.0 L452.5,367.0 L453.5,366.0 L454.4,366.1 L455.4,369.1 L456.3,365.2 L457.3,366.2 L458.2,367.2 L459.2,365.1 L460.1,365.1 L461.1,365.0 L462.0,367.4 L463.0,372.7 L463.0,373.8 Z" fill="#c2c2c2" stroke="none"/>
<path d="M387.0,372.6 H388.6 V371.5 H390.2 V372.2 H391.8 V372.5 H393.4 V373.4 H395.0 V371.3 H396.6 V368.7 H398.2 V363.8 H399.8 V362.4 H401.4 V355.3 H403.0 V357.4 H404.6 V351.7 H406.2 V351.1 H407.8 V345.9 H409.4 V344.4 H411.0 V336.2 H412.6 V327.3 H414.2 V317.8 H415.8 V338.3 H417.4 V342.3 H419.0 V339.0 H420.6 V345.1 H422.2 V357.1 H423.8 V364.9 H425.4 V371.2 H427.0 V370.2 H428.6 V370.2 H430.2 V372.4 H431.8 V369.3 H433.4 V372.4 H435.0 V369.1 H436.6 V369.2 H438.2 V369.3 H439.8 V372.4 H441.4 V372.4 H443.0 V373.4 H444.6 V371.3 H446.2 V372.6 H447.8" fill="none" stroke="#2a2a2a" stroke-width="1.05" stroke-dasharray="1.2 0.8"/>
<path d="M387.0,371.4 L387.9,372.2 L388.9,372.4 L389.8,371.4 L390.8,370.4 L391.7,371.3 L392.7,372.3 L393.6,370.3 L394.6,372.3 L395.5,371.3 L396.5,371.2 L397.4,370.2 L398.4,372.6 L399.3,366.8 L400.3,369.0 L401.2,372.2 L402.2,370.2 L403.1,371.2 L404.1,371.2 L405.0,371.2 L406.0,373.0 L406.9,369.8 L407.9,366.9 L408.8,367.2 L409.8,365.7 L410.7,364.3 L411.7,357.9 L412.6,354.3 L413.6,351.9 L414.5,351.1 L415.5,351.4 L416.4,355.8 L417.4,354.4 L418.3,358.0 L419.3,354.6 L420.2,356.0 L421.2,357.8 L422.1,342.8 L423.1,338.9 L424.0,341.8 L425.0,343.3 L425.9,343.8 L426.9,343.3 L427.8,356.8 L428.8,357.5 L429.7,357.1 L430.7,356.5 L431.6,359.7 L432.6,362.0 L433.5,363.2 L434.5,355.9 L435.4,354.6 L436.4,356.5 L437.3,354.2 L438.3,353.4 L439.2,356.9 L440.2,357.6 L441.1,357.4 L442.1,362.9 L443.0,353.5 L444.0,353.8 L444.9,360.3 L445.9,360.1 L446.8,363.9 L447.8,361.6 L448.7,366.5 L449.7,362.8 L450.6,365.8 L451.6,364.0 L452.5,367.0 L453.5,366.0 L454.4,366.1 L455.4,369.1 L456.3,365.2 L457.3,366.2 L458.2,367.2 L459.2,365.1 L460.1,365.1 L461.1,365.0 L462.0,367.4 L463.0,372.7" fill="none" stroke="#1a1a1a" stroke-width="0.9" stroke-linejoin="miter"/>
<path d="M385.5,375 V294.2 H475.5 V375" fill="none" stroke="#000" stroke-width="1.9"/>
<line x1="384.5" y1="375" x2="476.5" y2="375" stroke="#000" stroke-width="2.2" />
<line x1="386.0" y1="375" x2="386.0" y2="378.3" stroke="#000" stroke-width="1.3" />
<line x1="408.25" y1="375" x2="408.25" y2="378.3" stroke="#000" stroke-width="1.3" />
<line x1="430.5" y1="375" x2="430.5" y2="378.3" stroke="#000" stroke-width="1.3" />
<line x1="452.75" y1="375" x2="452.75" y2="378.3" stroke="#000" stroke-width="1.3" />
<line x1="475.0" y1="375" x2="475.0" y2="378.3" stroke="#000" stroke-width="1.3" />
<line x1="382.3" y1="294.2" x2="385.5" y2="294.2" stroke="#000" stroke-width="1.3" />
<line x1="382.3" y1="307.66666666666663" x2="385.5" y2="307.66666666666663" stroke="#000" stroke-width="1.3" />
<line x1="382.3" y1="321.1333333333333" x2="385.5" y2="321.1333333333333" stroke="#000" stroke-width="1.3" />
<line x1="382.3" y1="334.6" x2="385.5" y2="334.6" stroke="#000" stroke-width="1.3" />
<line x1="382.3" y1="348.06666666666666" x2="385.5" y2="348.06666666666666" stroke="#000" stroke-width="1.3" />
<line x1="382.3" y1="361.5333333333333" x2="385.5" y2="361.5333333333333" stroke="#000" stroke-width="1.3" />
<line x1="382.3" y1="375.0" x2="385.5" y2="375.0" stroke="#000" stroke-width="1.3" />
<line x1="383.9" y1="294.2" x2="383.9" y2="375" stroke="#000" stroke-width="1.6" stroke-dasharray="0.8 0.85"/>
<line x1="187.5" y1="381.3" x2="215.5" y2="381.3" stroke="#000" stroke-width="1.6" />
<line x1="220" y1="381.3" x2="247.5" y2="381.3" stroke="#000" stroke-width="1.6" />
<path d="M203.3,381.3 V403.8 H435.5 V385" fill="none" stroke="#000" stroke-width="1.4"/>
<path d="M233.8,381.3 V396.8 H328 V385" fill="none" stroke="#000" stroke-width="1.4"/>
<path d="M324,390.5 L328,383.6 L332,390.5" fill="none" stroke="#000" stroke-width="1.4"/>
<path d="M431.5,390.5 L435.5,383.6 L439.5,390.5" fill="none" stroke="#000" stroke-width="1.4"/>
<text x="-0.3" y="457.2" font-size="29" text-anchor="start" >D</text>
<path d="M99.2,435.5 h5.2 v1.7 h-1.4 v5.9 h1.4 v1.7 h-5.2 v-1.7 h1.4 v-5.9 h-1.4 z" fill="#000"/>
<text x="106.0" y="444.8" font-size="13.5" font-weight="bold" stroke="#000" stroke-width="0.3" text-anchor="start" textLength="20.9" lengthAdjust="spacingAndGlyphs" >L-5</text>
<path d="M262.5,435.5 h5.2 v1.7 h-1.4 v5.9 h1.4 v1.7 h-5.2 v-1.7 h1.4 v-5.9 h-1.4 z" fill="#000"/>
<text x="269.3" y="444.8" font-size="13.5" font-weight="bold" stroke="#000" stroke-width="0.3" text-anchor="start" textLength="28.2" lengthAdjust="spacingAndGlyphs" >L-10</text>
<line x1="60" y1="463.5" x2="60" y2="598.1" stroke="#000" stroke-width="1.45" />
<line x1="59.3" y1="597.4" x2="160.3" y2="597.4" stroke="#000" stroke-width="1.45" />
<line x1="55.7" y1="464.2" x2="60" y2="464.2" stroke="#000" stroke-width="1.4" />
<text x="54.5" y="468.9" font-size="13.2" text-anchor="end" textLength="16.6" lengthAdjust="spacingAndGlyphs" >0.8</text>
<line x1="55.7" y1="497.5" x2="60" y2="497.5" stroke="#000" stroke-width="1.4" />
<text x="54.5" y="502.2" font-size="13.2" text-anchor="end" textLength="16.6" lengthAdjust="spacingAndGlyphs" >0.6</text>
<line x1="55.7" y1="530.8" x2="60" y2="530.8" stroke="#000" stroke-width="1.4" />
<text x="54.5" y="535.5" font-size="13.2" text-anchor="end" textLength="16.6" lengthAdjust="spacingAndGlyphs" >0.4</text>
<line x1="55.7" y1="564.1" x2="60" y2="564.1" stroke="#000" stroke-width="1.4" />
<text x="54.5" y="568.8000000000001" font-size="13.2" text-anchor="end" textLength="16.6" lengthAdjust="spacingAndGlyphs" >0.2</text>
<line x1="55.7" y1="597.4" x2="60" y2="597.4" stroke="#000" stroke-width="1.4" />
<text x="54.5" y="602.1" font-size="13.2" text-anchor="end" >0</text>
<text transform="translate(30.1,529.5) rotate(-90)" font-size="11.4" font-weight="bold" stroke="#000" stroke-width="0.45" text-anchor="middle" textLength="35.5" lengthAdjust="spacingAndGlyphs">ng/ml</text>
<line x1="85" y1="597.4" x2="85" y2="600.9" stroke="#000" stroke-width="1.4" />
<line x1="134.5" y1="597.4" x2="134.5" y2="600.9" stroke="#000" stroke-width="1.4" />
<text x="62.4" y="611.7" font-size="13.2" text-anchor="start" textLength="43.3" lengthAdjust="spacingAndGlyphs" >Medium</text>
<text x="121.6" y="611.7" font-size="13.2" text-anchor="start" textLength="24.3" lengthAdjust="spacingAndGlyphs" >OVA</text>
<line x1="67" y1="596.1999999999999" x2="75.5" y2="596.1999999999999" stroke="#000" stroke-width="1.3" />
<line x1="81" y1="596.1999999999999" x2="90" y2="596.1999999999999" stroke="#000" stroke-width="1.3" />
<line x1="94" y1="596.1999999999999" x2="103" y2="596.1999999999999" stroke="#000" stroke-width="1.3" />
<line x1="121.95" y1="574.2" x2="121.95" y2="583" stroke="#000" stroke-width="1.8" />
<line x1="118.95" y1="574.2" x2="124.95" y2="574.2" stroke="#000" stroke-width="1.8" />
<rect x="117.10" y="583.20" width="9.65" height="14.20" fill="url(#hatch)" stroke="#000" stroke-width="1.9"/>
<line x1="135.55" y1="497" x2="135.55" y2="523.3" stroke="#000" stroke-width="1.8" />
<line x1="132.55" y1="497" x2="138.55" y2="497" stroke="#000" stroke-width="1.8" />
<rect x="131.10" y="523.50" width="8.85" height="73.90" fill="url(#dots)" stroke="#000" stroke-width="1.9"/>
<line x1="144" y1="596.1999999999999" x2="153.7" y2="596.1999999999999" stroke="#000" stroke-width="1.3" />
<line x1="117.3" y1="508.9" x2="117.3" y2="519.7" stroke="#000" stroke-width="1.35" />
<line x1="112.5" y1="511.05" x2="122.1" y2="517.55" stroke="#000" stroke-width="1.35" />
<line x1="112.5" y1="517.55" x2="122.1" y2="511.05" stroke="#000" stroke-width="1.35" />
<line x1="127.0" y1="508.9" x2="127.0" y2="519.7" stroke="#000" stroke-width="1.35" />
<line x1="122.2" y1="511.05" x2="131.8" y2="517.55" stroke="#000" stroke-width="1.35" />
<line x1="122.2" y1="517.55" x2="131.8" y2="511.05" stroke="#000" stroke-width="1.35" />
<line x1="226.4" y1="463.5" x2="226.4" y2="598.1" stroke="#000" stroke-width="1.45" />
<line x1="225.70000000000002" y1="597.4" x2="327" y2="597.4" stroke="#000" stroke-width="1.45" />
<line x1="222.1" y1="464.2" x2="226.4" y2="464.2" stroke="#000" stroke-width="1.4" />
<text x="220.9" y="468.9" font-size="13.2" text-anchor="end" textLength="16.6" lengthAdjust="spacingAndGlyphs" >2.5</text>
<line x1="222.1" y1="490.8" x2="226.4" y2="490.8" stroke="#000" stroke-width="1.4" />
<text x="220.9" y="495.5" font-size="13.2" text-anchor="end" >2</text>
<line x1="222.1" y1="517.5" x2="226.4" y2="517.5" stroke="#000" stroke-width="1.4" />
<text x="220.9" y="522.2" font-size="13.2" text-anchor="end" textLength="16.6" lengthAdjust="spacingAndGlyphs" >1.5</text>
<line x1="222.1" y1="544.2" x2="226.4" y2="544.2" stroke="#000" stroke-width="1.4" />
<text x="220.9" y="548.9000000000001" font-size="13.2" text-anchor="end" >1</text>
<line x1="222.1" y1="570.8" x2="226.4" y2="570.8" stroke="#000" stroke-width="1.4" />
<text x="220.9" y="575.5" font-size="13.2" text-anchor="end" textLength="16.6" lengthAdjust="spacingAndGlyphs" >0.5</text>
<line x1="222.1" y1="597.4" x2="226.4" y2="597.4" stroke="#000" stroke-width="1.4" />
<text x="220.9" y="602.1" font-size="13.2" text-anchor="end" >0</text>
<text transform="translate(204.4,530) rotate(-90)" font-size="11.4" font-weight="bold" stroke="#000" stroke-width="0.45" text-anchor="middle" textLength="35.5" lengthAdjust="spacingAndGlyphs">ng/ml</text>
<line x1="251.5" y1="597.4" x2="251.5" y2="600.9" stroke="#000" stroke-width="1.4" />
<line x1="301.5" y1="597.4" x2="301.5" y2="600.9" stroke="#000" stroke-width="1.4" />
<text x="229.5" y="611.9" font-size="13.2" text-anchor="start" textLength="42.5" lengthAdjust="spacingAndGlyphs" >Medium</text>
<text x="288.3" y="611.9" font-size="13.2" text-anchor="start" textLength="24.3" lengthAdjust="spacingAndGlyphs" >OVA</text>
<line x1="238.0" y1="571.2" x2="238.0" y2="576.2" stroke="#000" stroke-width="1.8" />
<line x1="235.0" y1="571.2" x2="241.0" y2="571.2" stroke="#000" stroke-width="1.8" />
<rect x="233.60" y="576.40" width="8.75" height="21.00" fill="url(#hatch)" stroke="#000" stroke-width="1.9"/>
<line x1="252.0" y1="580.3" x2="252.0" y2="582.5" stroke="#000" stroke-width="1.8" />
<line x1="249.0" y1="580.3" x2="255.0" y2="580.3" stroke="#000" stroke-width="1.8" />
<rect x="247.60" y="582.70" width="8.75" height="14.70" fill="url(#dots)" stroke="#000" stroke-width="1.9"/>
<line x1="265.70000000000005" y1="571.2" x2="265.70000000000005" y2="579.5" stroke="#000" stroke-width="1.8" />
<line x1="262.70000000000005" y1="571.2" x2="268.70000000000005" y2="571.2" stroke="#000" stroke-width="1.8" />
<rect x="261.40" y="579.70" width="8.55" height="17.70" fill="#fff" stroke="#000" stroke-width="1.9"/>
<line x1="288.1" y1="570.5" x2="288.1" y2="576.2" stroke="#000" stroke-width="1.8" />
<line x1="285.1" y1="570.5" x2="291.1" y2="570.5" stroke="#000" stroke-width="1.8" />
<rect x="283.80" y="576.40" width="8.55" height="21.00" fill="url(#hatch)" stroke="#000" stroke-width="1.9"/>
<line x1="301.85" y1="492" x2="301.85" y2="520.3" stroke="#000" stroke-width="1.8" />
<line x1="298.85" y1="492" x2="304.85" y2="492" stroke="#000" stroke-width="1.8" />
<rect x="297.50" y="520.50" width="8.65" height="76.90" fill="url(#dots)" stroke="#000" stroke-width="1.9"/>
<line x1="315.70000000000005" y1="555.5" x2="315.70000000000005" y2="573.8" stroke="#000" stroke-width="1.8" />
<line x1="312.70000000000005" y1="555.5" x2="318.70000000000005" y2="555.5" stroke="#000" stroke-width="1.8" />
<rect x="311.40" y="574.00" width="8.55" height="23.40" fill="#fff" stroke="#000" stroke-width="1.9"/>
<line x1="291.8" y1="505.0" x2="291.8" y2="515.8" stroke="#000" stroke-width="1.35" />
<line x1="287.0" y1="507.15" x2="296.6" y2="513.65" stroke="#000" stroke-width="1.35" />
<line x1="287.0" y1="513.65" x2="296.6" y2="507.15" stroke="#000" stroke-width="1.35" />
<rect x="339.3" y="463.0" width="15.6" height="8.9" rx="0.8" fill="#000"/>
<path d="M341.40000000000003,469.9 h3 l3.4,-4.9 h-3 z M346.7,469.9 h3 l3.1,-4.9 h-3 z" fill="#fff"/>
<text x="359.90000000000003" y="472.1" font-size="13.6" text-anchor="start" textLength="28.3" lengthAdjust="spacingAndGlyphs" >EPIT</text>
<rect x="340.35" y="480.3" width="13.5" height="6.8" rx="0.5" fill="url(#dots)" stroke="#000" stroke-width="2.1"/>
<text x="359.90000000000003" y="488.35" font-size="13.6" text-anchor="start" textLength="34.5" lengthAdjust="spacingAndGlyphs" >Sham</text>
<rect x="340.35" y="496.55" width="13.5" height="6.8" rx="0.5" fill="#fff" stroke="#000" stroke-width="2.1"/>
<text x="359.90000000000003" y="504.6" font-size="13.6" text-anchor="start" textLength="8" lengthAdjust="spacingAndGlyphs" >C</text>
<text x="-0.5" y="663.7" font-size="29" text-anchor="start" >E</text>
<path d="M99.2,642.5 h5.2 v1.7 h-1.4 v5.9 h1.4 v1.7 h-5.2 v-1.7 h1.4 v-5.9 h-1.4 z" fill="#000"/>
<text x="106.0" y="651.8" font-size="13.5" font-weight="bold" stroke="#000" stroke-width="0.3" text-anchor="start" textLength="21.1" lengthAdjust="spacingAndGlyphs" >L-4</text>
<path d="M263.8,642.4000000000001 h5.2 v1.7 h-1.4 v5.9 h1.4 v1.7 h-5.2 v-1.7 h1.4 v-5.9 h-1.4 z" fill="#000"/>
<text x="270.6" y="651.7" font-size="13.5" font-weight="bold" stroke="#000" stroke-width="0.3" text-anchor="start" textLength="25.4" lengthAdjust="spacingAndGlyphs" >FNγ</text>
<line x1="60" y1="671.0999999999999" x2="60" y2="805.5" stroke="#000" stroke-width="1.45" />
<line x1="59.3" y1="804.8" x2="160.5" y2="804.8" stroke="#000" stroke-width="1.45" />
<line x1="55.7" y1="671.8" x2="60" y2="671.8" stroke="#000" stroke-width="1.4" />
<line x1="55.7" y1="716.2" x2="60" y2="716.2" stroke="#000" stroke-width="1.4" />
<text x="54.5" y="720.9000000000001" font-size="13.2" text-anchor="end" >1</text>
<line x1="55.7" y1="760.5" x2="60" y2="760.5" stroke="#000" stroke-width="1.4" />
<text x="54.5" y="765.2" font-size="13.2" text-anchor="end" textLength="16.6" lengthAdjust="spacingAndGlyphs" >0.5</text>
<line x1="55.7" y1="804.8" x2="60" y2="804.8" stroke="#000" stroke-width="1.4" />
<text x="54.5" y="809.5" font-size="13.2" text-anchor="end" >0</text>
<text x="54.5" y="676.5" font-size="13.2" text-anchor="end" textLength="23.4" lengthAdjust="spacingAndGlyphs" >41.5</text>
<text transform="translate(34.2,737) rotate(-90)" font-size="11.4" font-weight="bold" stroke="#000" stroke-width="0.45" text-anchor="middle" textLength="35.5" lengthAdjust="spacingAndGlyphs">ng/ml</text>
<line x1="85" y1="804.8" x2="85" y2="808.3" stroke="#000" stroke-width="1.4" />
<line x1="134.5" y1="804.8" x2="134.5" y2="808.3" stroke="#000" stroke-width="1.4" />
<text x="62.5" y="818.7" font-size="13.2" text-anchor="start" textLength="42.5" lengthAdjust="spacingAndGlyphs" >Medium</text>
<text x="118.7" y="818.7" font-size="13.2" text-anchor="start" textLength="29.3" lengthAdjust="spacingAndGlyphs" >ConA</text>
<line x1="121.7" y1="771.7" x2="121.7" y2="781.4" stroke="#000" stroke-width="1.8" />
<line x1="118.7" y1="771.7" x2="124.7" y2="771.7" stroke="#000" stroke-width="1.8" />
<rect x="117.10" y="781.60" width="9.15" height="23.20" fill="url(#hatch)" stroke="#000" stroke-width="1.9"/>
<line x1="135.3" y1="716.7" x2="135.3" y2="738" stroke="#000" stroke-width="1.8" />
<line x1="132.3" y1="716.7" x2="138.3" y2="716.7" stroke="#000" stroke-width="1.8" />
<rect x="131.00" y="738.20" width="8.55" height="66.60" fill="url(#dots)" stroke="#000" stroke-width="1.9"/>
<line x1="148.5" y1="780.5" x2="148.5" y2="788.7" stroke="#000" stroke-width="1.8" />
<line x1="145.5" y1="780.5" x2="151.5" y2="780.5" stroke="#000" stroke-width="1.8" />
<rect x="144.20" y="788.90" width="8.55" height="15.90" fill="#fff" stroke="#000" stroke-width="1.9"/>
<line x1="124.5" y1="716.3" x2="124.5" y2="727.1" stroke="#000" stroke-width="1.35" />
<line x1="119.7" y1="718.45" x2="129.3" y2="724.95" stroke="#000" stroke-width="1.35" />
<line x1="119.7" y1="724.95" x2="129.3" y2="718.45" stroke="#000" stroke-width="1.35" />
<line x1="226.7" y1="671.0999999999999" x2="226.7" y2="805.5" stroke="#000" stroke-width="1.45" />
<line x1="226.0" y1="804.8" x2="327" y2="804.8" stroke="#000" stroke-width="1.45" />
<line x1="222.39999999999998" y1="671.8" x2="226.7" y2="671.8" stroke="#000" stroke-width="1.4" />
<text x="221.2" y="676.5" font-size="13.2" text-anchor="end" textLength="16.6" lengthAdjust="spacingAndGlyphs" >1.5</text>
<line x1="222.39999999999998" y1="716.2" x2="226.7" y2="716.2" stroke="#000" stroke-width="1.4" />
<text x="221.2" y="720.9000000000001" font-size="13.2" text-anchor="end" >1</text>
<line x1="222.39999999999998" y1="760.5" x2="226.7" y2="760.5" stroke="#000" stroke-width="1.4" />
<text x="221.2" y="765.2" font-size="13.2" text-anchor="end" textLength="16.6" lengthAdjust="spacingAndGlyphs" >0.5</text>
<line x1="222.39999999999998" y1="804.8" x2="226.7" y2="804.8" stroke="#000" stroke-width="1.4" />
<text x="221.2" y="809.5" font-size="13.2" text-anchor="end" >0</text>
<text transform="translate(197.2,737) rotate(-90)" font-size="11.4" font-weight="bold" stroke="#000" stroke-width="0.45" text-anchor="middle" textLength="35.5" lengthAdjust="spacingAndGlyphs">ng/ml</text>
<line x1="251.5" y1="804.8" x2="251.5" y2="808.3" stroke="#000" stroke-width="1.4" />
<line x1="301.5" y1="804.8" x2="301.5" y2="808.3" stroke="#000" stroke-width="1.4" />
<text x="229.2" y="818.6" font-size="13.2" text-anchor="start" textLength="42.5" lengthAdjust="spacingAndGlyphs" >Medium</text>
<text x="286.3" y="818.7" font-size="13.2" text-anchor="start" textLength="28" lengthAdjust="spacingAndGlyphs" >ConA</text>
<line x1="233.5" y1="803.5999999999999" x2="242.5" y2="803.5999999999999" stroke="#000" stroke-width="1.3" />
<rect x="260.8" y="802.3" width="9.8" height="2.6" fill="#000"/>
<line x1="263.6" y1="801" x2="267.8" y2="801" stroke="#000" stroke-width="1.4" />
<line x1="288.2" y1="766.8" x2="288.2" y2="777.2" stroke="#000" stroke-width="1.8" />
<line x1="285.2" y1="766.8" x2="291.2" y2="766.8" stroke="#000" stroke-width="1.8" />
<rect x="283.80" y="777.40" width="8.75" height="27.40" fill="url(#hatch)" stroke="#000" stroke-width="1.9"/>
<line x1="302.0" y1="761.8" x2="302.0" y2="769" stroke="#000" stroke-width="1.8" />
<line x1="299.0" y1="761.8" x2="305.0" y2="761.8" stroke="#000" stroke-width="1.8" />
<rect x="297.60" y="769.20" width="8.75" height="35.60" fill="url(#dots)" stroke="#000" stroke-width="1.9"/>
<line x1="315.65" y1="712" x2="315.65" y2="730.5" stroke="#000" stroke-width="1.8" />
<line x1="312.65" y1="712" x2="318.65" y2="712" stroke="#000" stroke-width="1.8" />
<rect x="311.30" y="730.70" width="8.65" height="74.10" fill="#fff" stroke="#000" stroke-width="1.9"/>
<rect x="340" y="670.0" width="15.6" height="8.9" rx="0.8" fill="#000"/>
<path d="M342.1,676.9 h3 l3.4,-4.9 h-3 z M347.4,676.9 h3 l3.1,-4.9 h-3 z" fill="#fff"/>
<text x="360.6" y="679.1" font-size="13.6" text-anchor="start" textLength="28.3" lengthAdjust="spacingAndGlyphs" >EPIT</text>
<rect x="341.05" y="687.3" width="13.5" height="6.8" rx="0.5" fill="url(#dots)" stroke="#000" stroke-width="2.1"/>
<text x="360.6" y="695.35" font-size="13.6" text-anchor="start" textLength="34.5" lengthAdjust="spacingAndGlyphs" >Sham</text>
<rect x="341.05" y="703.55" width="13.5" height="6.8" rx="0.5" fill="#fff" stroke="#000" stroke-width="2.1"/>
<text x="360.6" y="711.6" font-size="13.6" text-anchor="start" textLength="8" lengthAdjust="spacingAndGlyphs" >C</text>
</svg>
</body></html>
